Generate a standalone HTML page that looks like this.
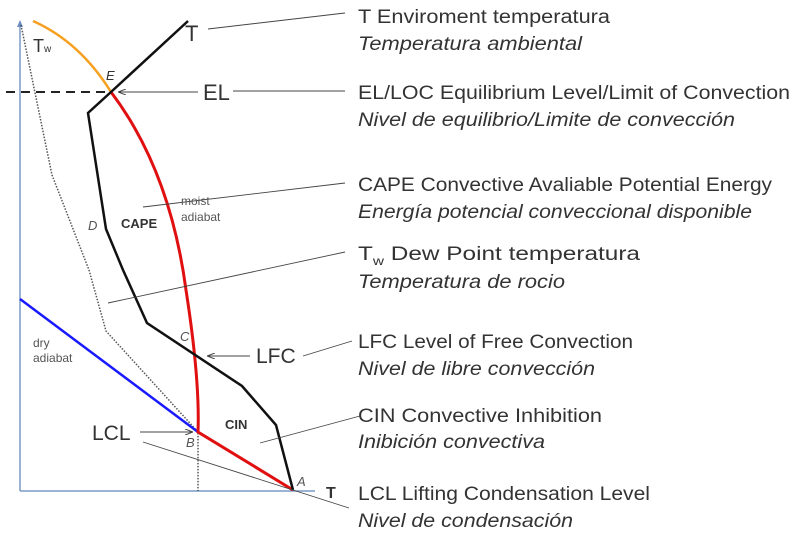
<!DOCTYPE html>
<html><head><style>html,body{margin:0;padding:0;background:#fff;}svg{display:block}</style></head>
<body>
<svg width="800" height="539" viewBox="0 0 800 539" xmlns="http://www.w3.org/2000/svg" font-family="Liberation Sans, DejaVu Sans, sans-serif">
<defs><marker id="ah" markerWidth="8" markerHeight="6" refX="8" refY="3" orient="auto"><path d="M0,0 L8,3 L0,6" fill="none" stroke="#444" stroke-width="1"/></marker></defs>
<!-- axes -->
<line x1="20" y1="22" x2="20" y2="491" stroke="#7a9cc6" stroke-width="1.5"/>
<path d="M17,27 L20,20 L23,27 Z" fill="#6a8cc0"/>
<line x1="20" y1="491" x2="315" y2="491" stroke="#7a9cc6" stroke-width="1.5"/>
<!-- dashed EL -->
<line x1="6" y1="92" x2="108" y2="92" stroke="#222" stroke-width="2" stroke-dasharray="9,6"/>
<!-- dotted Tw -->
<polyline points="21,25 52,175 89,270 106,331 198,432 198,491" fill="none" stroke="#555" stroke-width="1.5" stroke-dasharray="1.5,1.5"/>
<!-- blue dry adiabat -->
<line x1="20" y1="299" x2="198" y2="432" stroke="#1a1aff" stroke-width="2.5"/>
<!-- orange -->
<path d="M33,21 Q80,42 111,92" fill="none" stroke="#f5a020" stroke-width="2.5"/>
<!-- red -->
<path d="M111,92 Q170,170 186,290 Q200,380 198,432 L293,490" fill="none" stroke="#e01010" stroke-width="3"/>
<!-- black T -->
<polyline points="188,21 111,92 88,113 106,229 123,270 147,323 242,386 276,425 293,490" fill="none" stroke="#111" stroke-width="2.5"/>
<!-- arrows -->
<line x1="198" y1="92" x2="118" y2="92" stroke="#444" stroke-width="1" marker-end="url(#ah)"/>
<line x1="250" y1="356" x2="207" y2="356" stroke="#444" stroke-width="1" marker-end="url(#ah)"/>
<line x1="140" y1="432" x2="193" y2="432" stroke="#444" stroke-width="1" marker-end="url(#ah)"/>
<!-- leaders -->
<g stroke="#444" stroke-width="0.9">
<line x1="208" y1="29" x2="345" y2="13"/>
<line x1="233" y1="91" x2="345" y2="91"/>
<line x1="143" y1="207" x2="345" y2="183"/>
<line x1="108" y1="303" x2="345" y2="252"/>
<line x1="303" y1="356" x2="352" y2="341"/>
<line x1="260" y1="443" x2="360" y2="416"/>
<line x1="143" y1="442" x2="349" y2="508"/>
</g>
<!-- chart labels -->
<g fill="#333">
<text x="185" y="41" font-size="22">T</text>
<text x="33" y="52" font-size="18">T<tspan font-size="10">w</tspan></text>
<text x="106" y="80" font-size="13" font-style="italic">E</text>
<text x="203" y="100" font-size="22">EL</text>
<text x="181" y="205" font-size="12" fill="#555">moist</text>
<text x="181" y="221" font-size="12" fill="#555">adiabat</text>
<text x="121" y="228" font-size="13" font-weight="bold">CAPE</text>
<text x="88" y="230" font-size="13" font-style="italic" fill="#555">D</text>
<text x="180" y="341" font-size="13" font-style="italic" fill="#555">C</text>
<text x="256" y="363" font-size="21">LFC</text>
<text x="33" y="347" font-size="12" fill="#555">dry</text>
<text x="33" y="362" font-size="12" fill="#555">adiabat</text>
<text x="225" y="429" font-size="13" font-weight="bold">CIN</text>
<text x="92" y="440" font-size="21">LCL</text>
<text x="186" y="447" font-size="13" font-style="italic" fill="#555">B</text>
<text x="297" y="486" font-size="13" font-style="italic" fill="#555">A</text>
<text x="326" y="498" font-size="16" font-weight="bold">T</text>
</g>
<!-- right text -->
<g fill="#333" font-size="19">
<text x="358" y="23" textLength="252" lengthAdjust="spacingAndGlyphs">T Enviroment temperatura</text>
<text x="358" y="50" font-style="italic" textLength="224" lengthAdjust="spacingAndGlyphs">Temperatura ambiental</text>
<text x="358" y="99" textLength="432" lengthAdjust="spacingAndGlyphs">EL/LOC Equilibrium Level/Limit of Convection</text>
<text x="358" y="126" font-style="italic" textLength="377" lengthAdjust="spacingAndGlyphs">Nivel de equilibrio/Limite de convección</text>
<text x="358" y="191" textLength="414" lengthAdjust="spacingAndGlyphs">CAPE Convective Avaliable Potential Energy</text>
<text x="358" y="218" font-style="italic" textLength="394" lengthAdjust="spacingAndGlyphs">Energía potencial conveccional disponible</text>
<text x="358" y="260" textLength="282" lengthAdjust="spacingAndGlyphs">T<tspan font-size="12" dy="5">w</tspan><tspan dy="-5"> Dew Point temperatura</tspan></text>
<text x="358" y="288" font-style="italic" textLength="207" lengthAdjust="spacingAndGlyphs">Temperatura de rocio</text>
<text x="358" y="348" textLength="275" lengthAdjust="spacingAndGlyphs">LFC Level of Free Convection</text>
<text x="358" y="375" font-style="italic" textLength="237" lengthAdjust="spacingAndGlyphs">Nivel de libre convección</text>
<text x="358" y="422" textLength="244" lengthAdjust="spacingAndGlyphs">CIN Convective Inhibition</text>
<text x="358" y="448" font-style="italic" textLength="187" lengthAdjust="spacingAndGlyphs">Inibición convectiva</text>
<text x="358" y="500" textLength="292" lengthAdjust="spacingAndGlyphs">LCL Lifting Condensation Level</text>
<text x="358" y="527" font-style="italic" textLength="215" lengthAdjust="spacingAndGlyphs">Nivel de condensación</text>
</g>
</svg>
</body></html>
